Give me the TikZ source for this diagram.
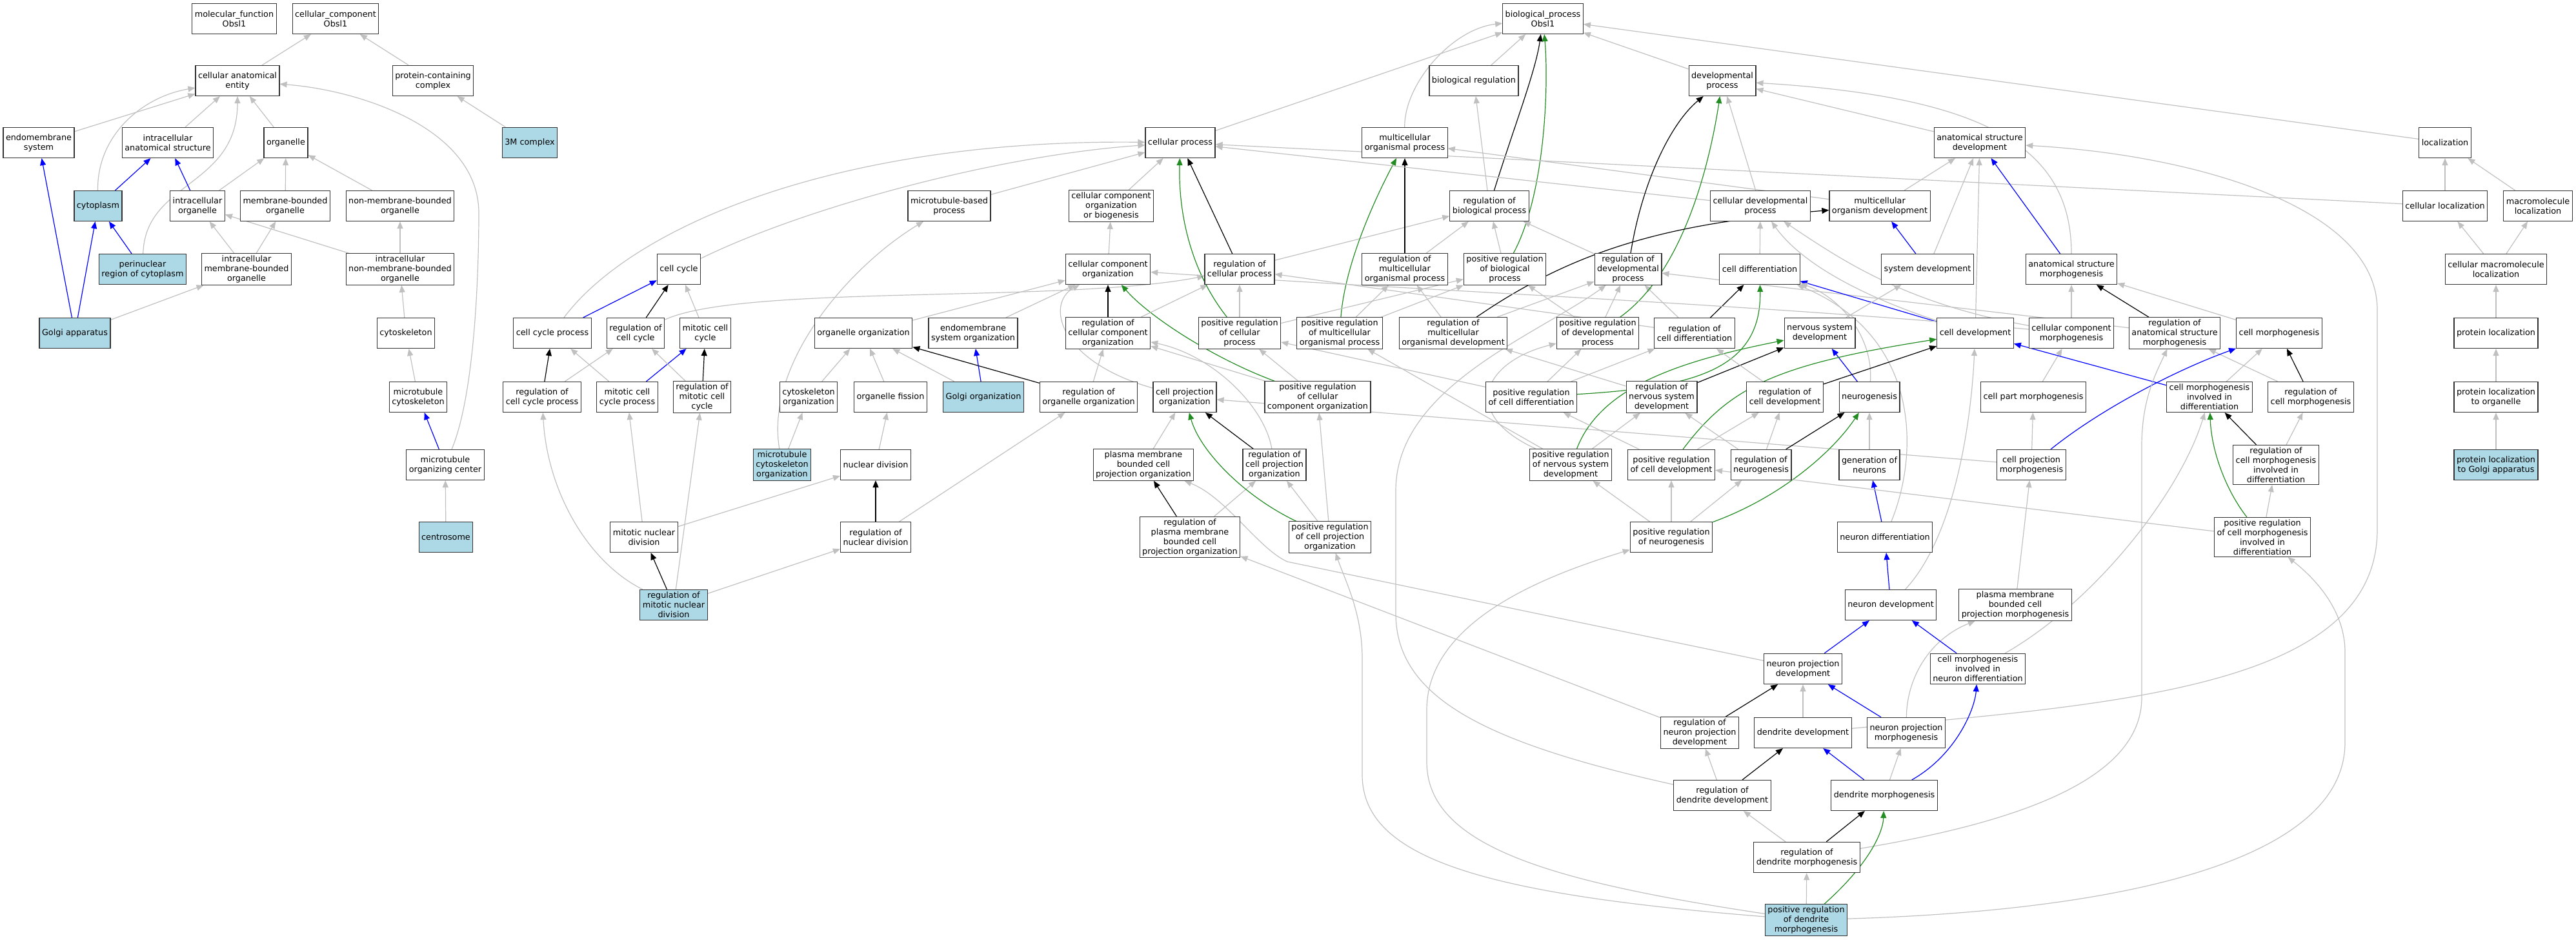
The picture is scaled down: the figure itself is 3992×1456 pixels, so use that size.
\documentclass[tikz,border=0pt]{standalone}
\usepackage{fontspec}
\usepackage{tikz}
\usetikzlibrary{backgrounds, arrows.meta}

\newfontfamily\termfamily{DejaVu Sans}
\newcommand{\termfont}{\termfamily\fontsize{12.8}{15}\selectfont}

\definecolor{termblue}{RGB}{173,216,230}
\definecolor{isagray}{RGB}{192,192,192}
\definecolor{posgreen}{RGB}{34,139,34}

\tikzset{
  term/.style={draw=black!80, line width=1.2pt, fill=white, align=center, inner xsep=4pt, inner ysep=3pt, minimum height=47pt, font=\termfont},
  hit/.style={term, fill=termblue},
  isa/.style={color=isagray, line width=1.2pt, -{Triangle[length=11pt, width=9pt]}},
  regulates/.style={isa, color=black},
  partof/.style={isa, color=blue},
  posreg/.style={isa, color=posgreen}
}

\begin{document}
\begin{tikzpicture}[x=1pt, y=-1pt]

  \useasboundingbox (0,0) rectangle (3992,1456);

  % root terms

  \node[term] (molfunc) at (363,29) {molecular\_function\\Obsl1};
  \node[term] (cellcomp) at (520,29) {cellular\_component\\Obsl1};
  \node[term] (bp) at (2391,29) {biological\_process\\Obsl1};

  \node[term] (cae) at (368,125) {cellular anatomical\\entity};
  \node[term] (pcc) at (671,125) {protein-containing\\complex};
  \node[term] (bioreg) at (2284,125) {biological regulation};
  \node[term] (devproc) at (2669,125) {developmental\\process};

  \node[term] (endomem) at (60,221) {endomembrane\\system};
  \node[term] (ias) at (260,221) {intracellular\\anatomical structure};
  \node[term] (organelle) at (443,221) {organelle};
  \node[hit] (mcomplex) at (821,221) {3M complex};
  \node[term] (cellproc) at (1829,221) {cellular process};
  \node[term] (mop) at (2177,221) {multicellular\\organismal process};
  \node[term] (anatdev) at (3068,221) {anatomical structure\\development};
  \node[term] (localization) at (3789,221) {localization};

  % second level

  \node[hit] (cytoplasm) at (152,319) {cytoplasm};
  \node[term] (icorg) at (306,319) {intracellular\\organelle};
  \node[term] (mbo) at (442,319) {membrane-bounded\\organelle};
  \node[term] (nmbo) at (620,319) {non-membrane-bounded\\organelle};
  \node[term] (mtbp) at (1471,319) {microtubule-based\\process};
  \node[term] (ccob) at (1722,319) {cellular component\\organization\\or biogenesis};
  \node[term] (rbp) at (2308,319) {regulation of\\biological process};
  \node[term] (celldevproc) at (2728,319) {cellular developmental\\process};
  \node[term] (mod) at (2913,319) {multicellular\\organism development};
  \node[term] (cellloc) at (3789,319) {cellular localization};
  \node[term] (macroloc) at (3933,319) {macromolecule\\localization};

  \node[hit] (perinuc) at (221,417) {perinuclear\\region of cytoplasm};
  \node[term] (imbo) at (382,417) {intracellular\\membrane-bounded\\organelle};
  \node[term] (inmbo) at (620,417) {intracellular\\non-membrane-bounded\\organelle};
  \node[term] (cellcycle) at (1052,417) {cell cycle};
  \node[term] (cco) at (1717,417) {cellular component\\organization};
  \node[term] (regcp) at (1921,417) {regulation of\\cellular process};
  \node[term] (rmop) at (2177,417) {regulation of\\multicellular\\organismal process};
  \node[term] (prbp) at (2332,417) {positive regulation\\of biological\\process};
  \node[term] (rdp) at (2523,417) {regulation of\\developmental\\process};
  \node[term] (celldiff) at (2727,417) {cell differentiation};
  \node[term] (sysdev) at (2987,417) {system development};
  \node[term] (asm) at (3210,417) {anatomical structure\\morphogenesis};
  \node[term] (cmloc) at (3868,417) {cellular macromolecule\\localization};

  % middle levels

  \node[hit] (golgi) at (116,516) {Golgi apparatus};
  \node[term] (cytoskel) at (629,516) {cytoskeleton};
  \node[term] (ccproc) at (856,516) {cell cycle process};
  \node[term] (regcc) at (985,516) {regulation of\\cell cycle};
  \node[term] (mitcc) at (1093,516) {mitotic cell\\cycle};
  \node[term] (orgorg) at (1338,516) {organelle organization};
  \node[term] (emsorg) at (1508,516) {endomembrane\\system organization};
  \node[term] (regcco) at (1717,516) {regulation of\\cellular component\\organization};
  \node[term] (posregcp) at (1921,516) {positive regulation\\of cellular\\process};
  \node[term] (prmop) at (2076,516) {positive regulation\\of multicellular\\organismal process};
  \node[term] (rmod) at (2252,516) {regulation of\\multicellular\\organismal development};
  \node[term] (prdp) at (2476,516) {positive regulation\\of developmental\\process};
  \node[term] (rcd) at (2626,516) {regulation of\\cell differentiation};
  \node[term] (nsd) at (2820,516) {nervous system\\development};
  \node[term] (celldev) at (3061,516) {cell development};
  \node[term] (ccmorph) at (3210,516) {cellular component\\morphogenesis};
  \node[term] (rasm) at (3370,516) {regulation of\\anatomical structure\\morphogenesis};
  \node[term] (cellmorph) at (3532,516) {cell morphogenesis};
  \node[term] (protloc) at (3868,516) {protein localization};

  \node[term] (mtcyto) at (648,615) {microtubule\\cytoskeleton};
  \node[term] (regccp) at (840,615) {regulation of\\cell cycle process};
  \node[term] (mitccp) at (972,615) {mitotic cell\\cycle process};
  \node[term] (regmcc) at (1088,615) {regulation of\\mitotic cell\\cycle};
  \node[term] (cytoorg) at (1253,615) {cytoskeleton\\organization};
  \node[term] (orgfis) at (1380,615) {organelle fission};
  \node[hit] (golgiorg) at (1524,615) {Golgi organization};
  \node[term] (regoo) at (1687,615) {regulation of\\organelle organization};
  \node[term] (cpo) at (1836,615) {cell projection\\organization};
  \node[term] (posregcco) at (2042,615) {positive regulation\\of cellular\\component organization};
  \node[term] (prcd) at (2373,615) {positive regulation\\of cell differentiation};
  \node[term] (rnsd) at (2575,615) {regulation of\\nervous system\\development};
  \node[term] (rcdev) at (2766,615) {regulation of\\cell development};
  \node[term] (neurogen) at (2897,615) {neurogenesis};
  \node[term] (cpartm) at (3151,615) {cell part morphogenesis};
  \node[term] (cmid) at (3424,615) {cell morphogenesis\\involved in\\differentiation};
  \node[term] (rcm) at (3581,615) {regulation of\\cell morphogenesis};
  \node[term] (plo) at (3868,615) {protein localization\\to organelle};

  \node[term] (mtoc) at (690,720) {microtubule\\organizing center};
  \node[hit] (mtco) at (1212,720) {microtubule\\cytoskeleton\\organization};
  \node[term] (nucdiv) at (1357,720) {nuclear division};
  \node[term] (pmbcpo) at (1772,720) {plasma membrane\\bounded cell\\projection organization};
  \node[term] (regcpo) at (1975,720) {regulation of\\cell projection\\organization};
  \node[term] (prnsd) at (2434,720) {positive regulation\\of nervous system\\development};
  \node[term] (prcdev) at (2590,720) {positive regulation\\of cell development};
  \node[term] (rneurog) at (2729,720) {regulation of\\neurogenesis};
  \node[term] (genneur) at (2897,720) {generation of\\neurons};
  \node[term] (cpmorph) at (3148,720) {cell projection\\morphogenesis};
  \node[term] (rcmid) at (3527,720) {regulation of\\cell morphogenesis\\involved in\\differentiation};
  \node[hit] (plga) at (3868,720) {protein localization\\to Golgi apparatus};

  % lower levels

  \node[hit] (centrosome) at (691,832) {centrosome};
  \node[term] (mitnd) at (998,832) {mitotic nuclear\\division};
  \node[term] (regnd) at (1357,832) {regulation of\\nuclear division};
  \node[term] (regpmbcpo) at (1844,832) {regulation of\\plasma membrane\\bounded cell\\projection organization};
  \node[term] (prcpo) at (2061,832) {positive regulation\\of cell projection\\organization};
  \node[term] (prneurog) at (2590,832) {positive regulation\\of neurogenesis};
  \node[term] (neurdiff) at (2921,832) {neuron differentiation};
  \node[term] (pcmid) at (3506,832) {positive regulation\\of cell morphogenesis\\involved in\\differentiation};

  \node[hit] (regmnd) at (1044,937) {regulation of\\mitotic nuclear\\division};
  \node[term] (neurdev) at (2930,937) {neuron development};
  \node[term] (pmbcpm) at (3123,937) {plasma membrane\\bounded cell\\projection morphogenesis};

  \node[term] (npd) at (2794,1036) {neuron projection\\development};
  \node[term] (cmind) at (3065,1036) {cell morphogenesis\\involved in\\neuron differentiation};

  \node[term] (rnpd) at (2634,1135) {regulation of\\neuron projection\\development};
  \node[term] (dendev) at (2794,1135) {dendrite development};
  \node[term] (npm) at (2954,1135) {neuron projection\\morphogenesis};

  \node[term] (rdd) at (2669,1232) {regulation of\\dendrite development};
  \node[term] (dendm) at (2920,1232) {dendrite morphogenesis};
  \node[term] (rdm) at (2800,1328) {regulation of\\dendrite morphogenesis};
  \node[hit] (prdm) at (2799,1425) {positive regulation\\of dendrite\\morphogenesis};

  \begin{scope}[on background layer]

  % cellular component edges

  \draw[isa] (cae) -- (cellcomp);
  \draw[isa] (pcc) -- (cellcomp);
  \draw[isa] (endomem) -- (cae);
  \draw[isa] (ias) -- (cae);
  \draw[isa] (organelle) -- (cae);
  \draw[isa] (cytoplasm) .. controls (150,210) and (220,150) .. (cae);
  \draw[isa] (perinuc) .. controls (225,280) and (368,290) .. (cae);
  \draw[isa] (mtoc) .. controls (740,600) and (742,380) .. (742,330) .. controls (742,200) and (560,140) .. (cae);
  \draw[isa] (mcomplex) -- (pcc);
  \draw[isa] (icorg) -- (organelle);
  \draw[isa] (mbo) -- (organelle);
  \draw[isa] (nmbo) -- (organelle);
  \draw[isa] (imbo) -- (icorg);
  \draw[isa] (imbo) -- (mbo);
  \draw[isa] (inmbo) -- (icorg);
  \draw[isa] (inmbo) -- (nmbo);
  \draw[isa] (golgi) -- (imbo);
  \draw[isa] (cytoskel) -- (inmbo);
  \draw[isa] (mtcyto) -- (cytoskel);
  \draw[isa] (centrosome) -- (mtoc);
  \draw[partof] (golgi) -- (endomem);
  \draw[partof] (golgi) -- (cytoplasm);
  \draw[partof] (perinuc) -- (cytoplasm);
  \draw[partof] (cytoplasm) -- (ias);
  \draw[partof] (icorg) -- (ias);
  \draw[partof] (mtoc) -- (mtcyto);

  % cell cycle edges

  \draw[partof] (ccproc) -- (cellcycle);
  \draw[regulates] (regcc) -- (cellcycle);
  \draw[isa] (mitcc) -- (cellcycle);
  \draw[isa] (cellcycle) .. controls (1250,320) and (1550,240) .. (cellproc);
  \draw[isa] (ccproc) .. controls (980,350) and (1300,215) .. (cellproc);
  \draw[regulates] (regccp) -- (ccproc);
  \draw[isa] (mitccp) -- (ccproc);
  \draw[isa] (regccp) -- (regcc);
  \draw[partof] (mitccp) -- (mitcc);
  \draw[regulates] (regmcc) -- (mitcc);
  \draw[isa] (regmcc) -- (regcc);
  \draw[isa] (mitnd) -- (mitccp);
  \draw[regulates] (regmnd) -- (mitnd);
  \draw[isa] (regmnd) -- (regnd);
  \draw[isa] (regmnd) -- (regmcc);
  \draw[isa] (regmnd) .. controls (910,870) and (848,760) .. (regccp);
  \draw[isa] (mitnd) -- (nucdiv);
  \draw[regulates] (regnd) -- (nucdiv);
  \draw[isa] (regnd) -- (regoo);
  \draw[isa] (regcc) .. controls (1150,440) and (1650,470) .. (regcp);

  % organization edges

  \draw[isa] (mtbp) -- (cellproc);
  \draw[isa] (ccob) -- (cellproc);
  \draw[isa] (cco) -- (ccob);
  \draw[isa] (mtco) .. controls (1185,560) and (1320,410) .. (mtbp);
  \draw[isa] (mtco) -- (cytoorg);
  \draw[isa] (cytoorg) -- (orgorg);
  \draw[isa] (orgfis) -- (orgorg);
  \draw[isa] (golgiorg) -- (orgorg);
  \draw[regulates] (regoo) -- (orgorg);
  \draw[partof] (golgiorg) -- (emsorg);
  \draw[isa] (nucdiv) -- (orgfis);
  \draw[isa] (orgorg) -- (cco);
  \draw[isa] (emsorg) -- (cco);
  \draw[regulates] (regcco) -- (cco);
  \draw[isa] (regoo) -- (regcco);
  \draw[posreg] (posregcco) .. controls (1880,555) and (1780,490) .. (cco);
  \draw[isa] (posregcco) -- (regcco);
  \draw[isa] (posregcco) -- (posregcp);
  \draw[isa] (cpo) .. controls (1640,560) and (1620,470) .. (cco);
  \draw[isa] (regcco) -- (regcp);
  \draw[isa] (posregcp) -- (regcp);
  \draw[posreg] (posregcp) .. controls (1845,420) and (1826,330) .. (cellproc);
  \draw[regulates] (regcp) -- (cellproc);
  \draw[isa] (pmbcpo) -- (cpo);
  \draw[regulates] (regcpo) -- (cpo);
  \draw[isa] (regcpo) .. controls (1960,630) and (1880,550) .. (regcco);
  \draw[regulates] (regpmbcpo) -- (pmbcpo);
  \draw[isa] (regpmbcpo) -- (regcpo);
  \draw[posreg] (prcpo) .. controls (1930,770) and (1860,700) .. (cpo);
  \draw[isa] (prcpo) -- (regcpo);
  \draw[isa] (prcpo) -- (posregcco);
  \draw[isa] (cpmorph) -- (cpo);
  \draw[isa] (npd) -- (1995,870) .. controls (1950,850) and (1900,770) .. (pmbcpo);
  \draw[isa] (rnpd) -- (regpmbcpo);

  % biological process top edges

  \draw[isa] (cellproc) -- (bp);
  \draw[isa] (bioreg) -- (bp);
  \draw[isa] (mop) .. controls (2176,130) and (2250,45) .. (bp);
  \draw[regulates] (rbp) .. controls (2345,200) and (2380,110) .. (bp);
  \draw[posreg] (prbp) .. controls (2395,300) and (2400,130) .. (bp);
  \draw[isa] (devproc) -- (bp);
  \draw[isa] (localization) -- (bp);
  \draw[isa] (rbp) -- (bioreg);
  \draw[isa] (regcp) -- (rbp);
  \draw[isa] (rmop) -- (rbp);
  \draw[isa] (prbp) -- (rbp);
  \draw[isa] (rdp) -- (rbp);
  \draw[regulates] (rmop) -- (mop);
  \draw[posreg] (prmop) .. controls (2085,400) and (2140,290) .. (mop);
  \draw[isa] (mod) -- (mop);
  \draw[isa] (celldevproc) -- (cellproc);
  \draw[isa] (cellloc) -- (cellproc);
  \draw[isa] (posregcp) -- (prbp);
  \draw[isa] (prmop) -- (prbp);
  \draw[isa] (prdp) -- (prbp);
  \draw[isa] (prmop) -- (rmop);
  \draw[isa] (rmod) -- (rmop);
  \draw[isa] (rmod) -- (rdp);
  \draw[isa] (prdp) -- (rdp);
  \draw[isa] (rcd) -- (rdp);
  \draw[isa] (rasm) -- (rdp);
  \draw[isa] (rdd) .. controls (2300,1150) and (2163,1080) .. (2163,950) -- (2163,760) .. controls (2163,600) and (2380,520) .. (rdp);
  \draw[isa] (rcd) -- (regcp);
  \draw[isa] (prcd) -- (posregcp);
  \draw[isa] (prnsd) -- (prmop);
  \draw[isa] (prnsd) .. controls (2260,640) and (2300,560) .. (prdp);

  % development edges

  \draw[regulates] (rdp) .. controls (2545,280) and (2590,190) .. (devproc);
  \draw[posreg] (prdp) .. controls (2610,420) and (2650,250) .. (devproc);
  \draw[isa] (celldevproc) -- (devproc);
  \draw[isa] (anatdev) -- (devproc);
  \draw[isa] (asm) .. controls (3210,230) and (3080,150) .. (devproc);
  \draw[regulates] (rmod) .. controls (2450,380) and (2600,345) .. (mod);
  \draw[partof] (sysdev) -- (mod);
  \draw[isa] (mod) -- (anatdev);
  \draw[isa] (sysdev) -- (anatdev);
  \draw[isa] (celldev) -- (anatdev);
  \draw[partof] (asm) -- (anatdev);
  \draw[isa] (dendev) .. controls (3300,1090) and (3684,1060) .. (3684,820) -- (3684,480) .. controls (3684,320) and (3400,240) .. (anatdev);
  \draw[isa] (celldiff) -- (celldevproc);
  \draw[isa] (ccmorph) .. controls (2950,470) and (2850,400) .. (celldevproc);
  \draw[isa] (celldev) .. controls (2920,470) and (2800,420) .. (celldevproc);
  \draw[regulates] (rcd) -- (celldiff);
  \draw[posreg] (prcd) .. controls (2620,600) and (2730,575) .. (celldiff);
  \draw[partof] (celldev) -- (celldiff);
  \draw[isa] (neurogen) .. controls (2903,520) and (2850,460) .. (celldiff);
  \draw[isa] (neurdiff) .. controls (2975,700) and (2975,520) .. (celldiff);
  \draw[isa] (nsd) -- (sysdev);
  \draw[partof] (neurogen) -- (nsd);
  \draw[regulates] (rnsd) -- (nsd);
  \draw[posreg] (prnsd) .. controls (2480,600) and (2600,560) .. (nsd);
  \draw[isa] (rnsd) -- (rmod);
  \draw[isa] (prnsd) -- (rnsd);
  \draw[isa] (prcd) -- (rcd);
  \draw[isa] (prcd) -- (prdp);
  \draw[isa] (rcdev) -- (rcd);
  \draw[regulates] (rcdev) -- (celldev);
  \draw[posreg] (prcdev) .. controls (2680,600) and (2750,565) .. (celldev);
  \draw[isa] (prcdev) -- (rcdev);
  \draw[isa] (prcdev) -- (prcd);
  \draw[isa] (rneurog) -- (rcdev);
  \draw[isa] (rneurog) -- (rnsd);
  \draw[regulates] (rneurog) -- (neurogen);
  \draw[isa] (genneur) -- (neurogen);
  \draw[posreg] (prneurog) .. controls (2760,770) and (2840,700) .. (neurogen);
  \draw[isa] (prneurog) -- (prnsd);
  \draw[isa] (prneurog) -- (prcdev);
  \draw[isa] (prneurog) -- (rneurog);
  \draw[partof] (neurdiff) -- (genneur);
  \draw[partof] (neurdev) -- (neurdiff);
  \draw[isa] (neurdev) .. controls (3030,830) and (3055,650) .. (celldev);

  % morphogenesis edges

  \draw[isa] (ccmorph) -- (asm);
  \draw[regulates] (rasm) -- (asm);
  \draw[isa] (cellmorph) -- (asm);
  \draw[isa] (ccmorph) .. controls (2700,470) and (2200,450) .. (cco);
  \draw[isa] (cpartm) -- (ccmorph);
  \draw[isa] (cmid) -- (cellmorph);
  \draw[regulates] (rcm) -- (cellmorph);
  \draw[isa] (rcm) -- (rasm);
  \draw[partof] (cmid) -- (celldev);
  \draw[partof] (cpmorph) .. controls (3260,630) and (3380,570) .. (cellmorph);
  \draw[isa] (cpmorph) -- (cpartm);
  \draw[regulates] (rcmid) -- (cmid);
  \draw[isa] (rcmid) -- (rcm);
  \draw[isa] (pcmid) -- (rcmid);
  \draw[posreg] (pcmid) .. controls (3450,760) and (3427,700) .. (cmid);
  \draw[isa] (pcmid) -- (prcdev);
  \draw[isa] (pmbcpm) -- (cpmorph);
  \draw[isa] (npm) .. controls (2955,1050) and (2990,990) .. (pmbcpm);
  \draw[isa] (cmind) .. controls (3250,930) and (3380,760) .. (cmid);
  \draw[partof] (cmind) -- (neurdev);
  \draw[partof] (npd) -- (neurdev);
  \draw[partof] (npm) -- (npd);
  \draw[isa] (dendev) -- (npd);
  \draw[regulates] (rnpd) -- (npd);
  \draw[regulates] (rdd) -- (dendev);
  \draw[isa] (rdd) -- (rnpd);
  \draw[partof] (dendm) -- (dendev);
  \draw[isa] (dendm) -- (npm);
  \draw[partof] (dendm) .. controls (3030,1170) and (3060,1100) .. (cmind);
  \draw[isa] (rdm) -- (rdd);
  \draw[regulates] (rdm) -- (dendm);
  \draw[isa] (rdm) .. controls (3150,1270) and (3319,1200) .. (3319,1080) -- (3319,690) .. controls (3319,620) and (3340,580) .. (rasm);
  \draw[isa] (prdm) -- (rdm);
  \draw[posreg] (prdm) .. controls (2895,1340) and (2918,1290) .. (dendm);
  \draw[isa] (prdm) .. controls (2300,1385) and (2111,1330) .. (2111,1200) -- (2111,1020) .. controls (2111,950) and (2085,900) .. (prcpo);
  \draw[isa] (prdm) .. controls (2400,1365) and (2211,1310) .. (2211,1180) -- (2211,1100) .. controls (2211,960) and (2400,890) .. (prneurog);
  \draw[isa] (prdm) .. controls (3300,1410) and (3634,1330) .. (3634,1150) -- (3634,1010) .. controls (3634,940) and (3580,890) .. (pcmid);

  % localization edges

  \draw[isa] (cellloc) -- (localization);
  \draw[isa] (macroloc) -- (localization);
  \draw[isa] (cmloc) -- (cellloc);
  \draw[isa] (cmloc) -- (macroloc);
  \draw[isa] (protloc) -- (cmloc);
  \draw[isa] (plo) -- (protloc);
  \draw[isa] (plga) -- (plo);

  \end{scope}

\end{tikzpicture}
\end{document}
